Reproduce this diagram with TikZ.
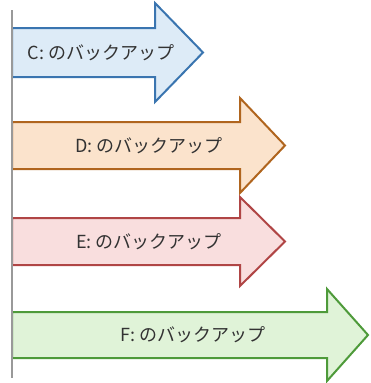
\documentclass[tikz,border=0pt]{standalone}
\usepackage{fontspec}
\newfontfamily\jpfont{Noto Sans CJK JP}
\definecolor{cfill}{HTML}{DDEBF7}\definecolor{cdraw}{HTML}{3A75B0}
\definecolor{dfill}{HTML}{FBE3CC}\definecolor{ddraw}{HTML}{B0651E}
\definecolor{efill}{HTML}{F9DEDE}\definecolor{edraw}{HTML}{B04545}
\definecolor{ffill}{HTML}{E0F3D8}\definecolor{fdraw}{HTML}{4E9A3A}
\begin{document}
\begin{tikzpicture}[x=1pt,y=-1pt,
  bkarrow/.style={line width=2pt,line join=miter},
  lbl/.style={font=\jpfont\fontsize{18}{18}\selectfont,text=black!80,inner sep=0pt}]
\useasboundingbox (0,0) rectangle (370,383);
% C
\draw[bkarrow,fill=cfill,draw=cdraw] (12,28) -- (155,28) -- (155,3) -- (203,52.5) -- (155,102) -- (155,77) -- (12,77) -- cycle;
\node[lbl] (c) at (101,52.5) {C: のバックアップ};
% D
\draw[bkarrow,fill=dfill,draw=ddraw] (12,122) -- (240,122) -- (240,98) -- (285,145.5) -- (240,193) -- (240,169) -- (12,169) -- cycle;
\node[lbl] (d) at (149,145.5) {D: のバックアップ};
% E
\draw[bkarrow,fill=efill,draw=edraw] (12,218) -- (240,218) -- (240,197) -- (285,241.5) -- (240,286) -- (240,265) -- (12,265) -- cycle;
\node[lbl] (e) at (149,241.5) {E: のバックアップ};
% F
\draw[bkarrow,fill=ffill,draw=fdraw] (12,312) -- (327,312) -- (327,289) -- (368,335) -- (327,381) -- (327,358) -- (12,358) -- cycle;
\node[lbl] (f) at (193,335) {F: のバックアップ};
% timeline
\coordinate (ltop) at (12,10);
\coordinate (lbot) at (12,378);
\draw[line width=2pt,color=black!40] (ltop) -- (lbot);
\end{tikzpicture}
\end{document}
